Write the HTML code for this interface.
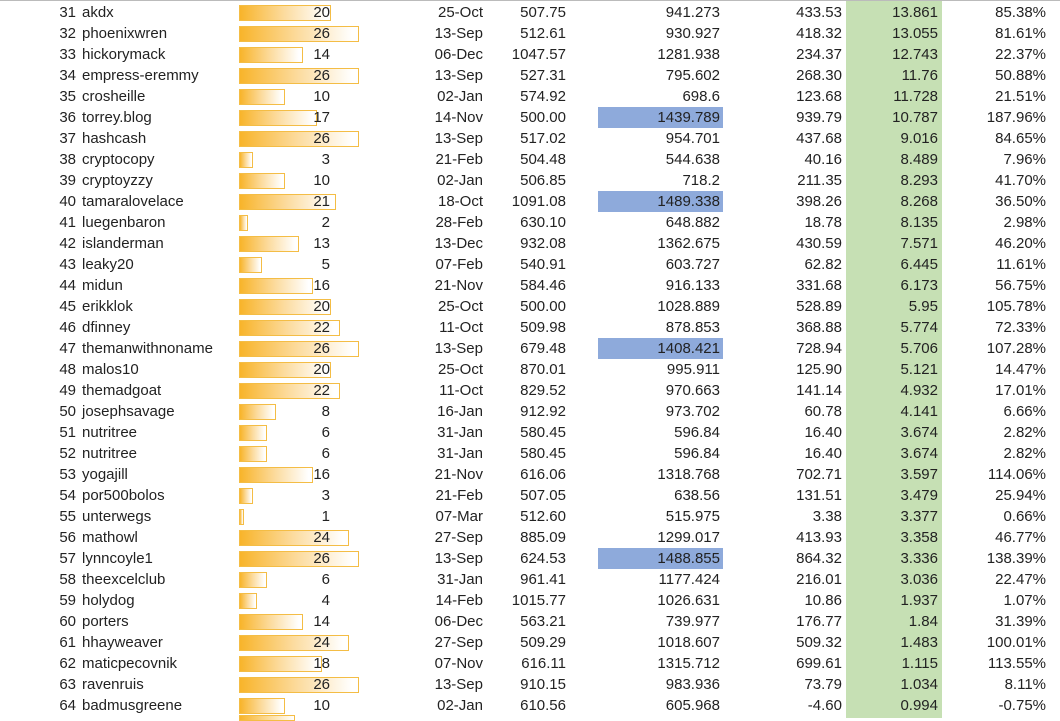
<!DOCTYPE html>
<html><head><meta charset="utf-8"><style>
body{margin:0;width:1060px;height:718px;overflow:hidden;background:#fff;font-family:"Liberation Sans",sans-serif;font-size:15px;color:#222;position:relative}
.g{position:absolute;left:846px;top:0;width:96px;height:718px;background:#c6e0b4}
.top{position:absolute;left:0;top:0;width:1060px;height:1px;background:#bbb}
.r{position:relative;height:21.03px;line-height:21px}
.r span{position:absolute;top:0;white-space:nowrap}
.n{right:984px}
.m{left:82px}
.b{left:239px;top:3px!important;height:16px;border:1px solid #f4bd45;box-sizing:border-box;background:linear-gradient(to right,#f8b42a,#fcdca0 50%,#fff 95%)}
.v{right:730px}
.d{right:577px}
.c4{right:494px}
.c5{right:340px}
.c6{right:218px}
.c7{right:122px}
.c8{right:14px}
.bl{position:absolute;left:598px;width:125px;top:0;height:21px;background:#8eaadb}
</style></head><body>
<div class="g"></div><div class="top"></div>
<div style="position:absolute;top:1.5px;left:0;width:1060px">
<div class="r"><span class="n">31</span><span class="m">akdx</span><span class="b" style="width:92px"></span><span class="v">20</span><span class="d">25-Oct</span><span class="c4">507.75</span><span class="c5">941.273</span><span class="c6">433.53</span><span class="c7">13.861</span><span class="c8">85.38%</span></div>
<div class="r"><span class="n">32</span><span class="m">phoenixwren</span><span class="b" style="width:120px"></span><span class="v">26</span><span class="d">13-Sep</span><span class="c4">512.61</span><span class="c5">930.927</span><span class="c6">418.32</span><span class="c7">13.055</span><span class="c8">81.61%</span></div>
<div class="r"><span class="n">33</span><span class="m">hickorymack</span><span class="b" style="width:64px"></span><span class="v">14</span><span class="d">06-Dec</span><span class="c4">1047.57</span><span class="c5">1281.938</span><span class="c6">234.37</span><span class="c7">12.743</span><span class="c8">22.37%</span></div>
<div class="r"><span class="n">34</span><span class="m">empress-eremmy</span><span class="b" style="width:120px"></span><span class="v">26</span><span class="d">13-Sep</span><span class="c4">527.31</span><span class="c5">795.602</span><span class="c6">268.30</span><span class="c7">11.76</span><span class="c8">50.88%</span></div>
<div class="r"><span class="n">35</span><span class="m">crosheille</span><span class="b" style="width:46px"></span><span class="v">10</span><span class="d">02-Jan</span><span class="c4">574.92</span><span class="c5">698.6</span><span class="c6">123.68</span><span class="c7">11.728</span><span class="c8">21.51%</span></div>
<div class="r"><span class="bl"></span><span class="n">36</span><span class="m">torrey.blog</span><span class="b" style="width:78px"></span><span class="v">17</span><span class="d">14-Nov</span><span class="c4">500.00</span><span class="c5">1439.789</span><span class="c6">939.79</span><span class="c7">10.787</span><span class="c8">187.96%</span></div>
<div class="r"><span class="n">37</span><span class="m">hashcash</span><span class="b" style="width:120px"></span><span class="v">26</span><span class="d">13-Sep</span><span class="c4">517.02</span><span class="c5">954.701</span><span class="c6">437.68</span><span class="c7">9.016</span><span class="c8">84.65%</span></div>
<div class="r"><span class="n">38</span><span class="m">cryptocopy</span><span class="b" style="width:14px"></span><span class="v">3</span><span class="d">21-Feb</span><span class="c4">504.48</span><span class="c5">544.638</span><span class="c6">40.16</span><span class="c7">8.489</span><span class="c8">7.96%</span></div>
<div class="r"><span class="n">39</span><span class="m">cryptoyzzy</span><span class="b" style="width:46px"></span><span class="v">10</span><span class="d">02-Jan</span><span class="c4">506.85</span><span class="c5">718.2</span><span class="c6">211.35</span><span class="c7">8.293</span><span class="c8">41.70%</span></div>
<div class="r"><span class="bl"></span><span class="n">40</span><span class="m">tamaralovelace</span><span class="b" style="width:97px"></span><span class="v">21</span><span class="d">18-Oct</span><span class="c4">1091.08</span><span class="c5">1489.338</span><span class="c6">398.26</span><span class="c7">8.268</span><span class="c8">36.50%</span></div>
<div class="r"><span class="n">41</span><span class="m">luegenbaron</span><span class="b" style="width:9px"></span><span class="v">2</span><span class="d">28-Feb</span><span class="c4">630.10</span><span class="c5">648.882</span><span class="c6">18.78</span><span class="c7">8.135</span><span class="c8">2.98%</span></div>
<div class="r"><span class="n">42</span><span class="m">islanderman</span><span class="b" style="width:60px"></span><span class="v">13</span><span class="d">13-Dec</span><span class="c4">932.08</span><span class="c5">1362.675</span><span class="c6">430.59</span><span class="c7">7.571</span><span class="c8">46.20%</span></div>
<div class="r"><span class="n">43</span><span class="m">leaky20</span><span class="b" style="width:23px"></span><span class="v">5</span><span class="d">07-Feb</span><span class="c4">540.91</span><span class="c5">603.727</span><span class="c6">62.82</span><span class="c7">6.445</span><span class="c8">11.61%</span></div>
<div class="r"><span class="n">44</span><span class="m">midun</span><span class="b" style="width:74px"></span><span class="v">16</span><span class="d">21-Nov</span><span class="c4">584.46</span><span class="c5">916.133</span><span class="c6">331.68</span><span class="c7">6.173</span><span class="c8">56.75%</span></div>
<div class="r"><span class="n">45</span><span class="m">erikklok</span><span class="b" style="width:92px"></span><span class="v">20</span><span class="d">25-Oct</span><span class="c4">500.00</span><span class="c5">1028.889</span><span class="c6">528.89</span><span class="c7">5.95</span><span class="c8">105.78%</span></div>
<div class="r"><span class="n">46</span><span class="m">dfinney</span><span class="b" style="width:101px"></span><span class="v">22</span><span class="d">11-Oct</span><span class="c4">509.98</span><span class="c5">878.853</span><span class="c6">368.88</span><span class="c7">5.774</span><span class="c8">72.33%</span></div>
<div class="r"><span class="bl"></span><span class="n">47</span><span class="m">themanwithnoname</span><span class="b" style="width:120px"></span><span class="v">26</span><span class="d">13-Sep</span><span class="c4">679.48</span><span class="c5">1408.421</span><span class="c6">728.94</span><span class="c7">5.706</span><span class="c8">107.28%</span></div>
<div class="r"><span class="n">48</span><span class="m">malos10</span><span class="b" style="width:92px"></span><span class="v">20</span><span class="d">25-Oct</span><span class="c4">870.01</span><span class="c5">995.911</span><span class="c6">125.90</span><span class="c7">5.121</span><span class="c8">14.47%</span></div>
<div class="r"><span class="n">49</span><span class="m">themadgoat</span><span class="b" style="width:101px"></span><span class="v">22</span><span class="d">11-Oct</span><span class="c4">829.52</span><span class="c5">970.663</span><span class="c6">141.14</span><span class="c7">4.932</span><span class="c8">17.01%</span></div>
<div class="r"><span class="n">50</span><span class="m">josephsavage</span><span class="b" style="width:37px"></span><span class="v">8</span><span class="d">16-Jan</span><span class="c4">912.92</span><span class="c5">973.702</span><span class="c6">60.78</span><span class="c7">4.141</span><span class="c8">6.66%</span></div>
<div class="r"><span class="n">51</span><span class="m">nutritree</span><span class="b" style="width:28px"></span><span class="v">6</span><span class="d">31-Jan</span><span class="c4">580.45</span><span class="c5">596.84</span><span class="c6">16.40</span><span class="c7">3.674</span><span class="c8">2.82%</span></div>
<div class="r"><span class="n">52</span><span class="m">nutritree</span><span class="b" style="width:28px"></span><span class="v">6</span><span class="d">31-Jan</span><span class="c4">580.45</span><span class="c5">596.84</span><span class="c6">16.40</span><span class="c7">3.674</span><span class="c8">2.82%</span></div>
<div class="r"><span class="n">53</span><span class="m">yogajill</span><span class="b" style="width:74px"></span><span class="v">16</span><span class="d">21-Nov</span><span class="c4">616.06</span><span class="c5">1318.768</span><span class="c6">702.71</span><span class="c7">3.597</span><span class="c8">114.06%</span></div>
<div class="r"><span class="n">54</span><span class="m">por500bolos</span><span class="b" style="width:14px"></span><span class="v">3</span><span class="d">21-Feb</span><span class="c4">507.05</span><span class="c5">638.56</span><span class="c6">131.51</span><span class="c7">3.479</span><span class="c8">25.94%</span></div>
<div class="r"><span class="n">55</span><span class="m">unterwegs</span><span class="b" style="width:5px"></span><span class="v">1</span><span class="d">07-Mar</span><span class="c4">512.60</span><span class="c5">515.975</span><span class="c6">3.38</span><span class="c7">3.377</span><span class="c8">0.66%</span></div>
<div class="r"><span class="n">56</span><span class="m">mathowl</span><span class="b" style="width:110px"></span><span class="v">24</span><span class="d">27-Sep</span><span class="c4">885.09</span><span class="c5">1299.017</span><span class="c6">413.93</span><span class="c7">3.358</span><span class="c8">46.77%</span></div>
<div class="r"><span class="bl"></span><span class="n">57</span><span class="m">lynncoyle1</span><span class="b" style="width:120px"></span><span class="v">26</span><span class="d">13-Sep</span><span class="c4">624.53</span><span class="c5">1488.855</span><span class="c6">864.32</span><span class="c7">3.336</span><span class="c8">138.39%</span></div>
<div class="r"><span class="n">58</span><span class="m">theexcelclub</span><span class="b" style="width:28px"></span><span class="v">6</span><span class="d">31-Jan</span><span class="c4">961.41</span><span class="c5">1177.424</span><span class="c6">216.01</span><span class="c7">3.036</span><span class="c8">22.47%</span></div>
<div class="r"><span class="n">59</span><span class="m">holydog</span><span class="b" style="width:18px"></span><span class="v">4</span><span class="d">14-Feb</span><span class="c4">1015.77</span><span class="c5">1026.631</span><span class="c6">10.86</span><span class="c7">1.937</span><span class="c8">1.07%</span></div>
<div class="r"><span class="n">60</span><span class="m">porters</span><span class="b" style="width:64px"></span><span class="v">14</span><span class="d">06-Dec</span><span class="c4">563.21</span><span class="c5">739.977</span><span class="c6">176.77</span><span class="c7">1.84</span><span class="c8">31.39%</span></div>
<div class="r"><span class="n">61</span><span class="m">hhayweaver</span><span class="b" style="width:110px"></span><span class="v">24</span><span class="d">27-Sep</span><span class="c4">509.29</span><span class="c5">1018.607</span><span class="c6">509.32</span><span class="c7">1.483</span><span class="c8">100.01%</span></div>
<div class="r"><span class="n">62</span><span class="m">maticpecovnik</span><span class="b" style="width:83px"></span><span class="v">18</span><span class="d">07-Nov</span><span class="c4">616.11</span><span class="c5">1315.712</span><span class="c6">699.61</span><span class="c7">1.115</span><span class="c8">113.55%</span></div>
<div class="r"><span class="n">63</span><span class="m">ravenruis</span><span class="b" style="width:120px"></span><span class="v">26</span><span class="d">13-Sep</span><span class="c4">910.15</span><span class="c5">983.936</span><span class="c6">73.79</span><span class="c7">1.034</span><span class="c8">8.11%</span></div>
<div class="r"><span class="n">64</span><span class="m">badmusgreene</span><span class="b" style="width:46px"></span><span class="v">10</span><span class="d">02-Jan</span><span class="c4">610.56</span><span class="c5">605.968</span><span class="c6">-4.60</span><span class="c7">0.994</span><span class="c8">-0.75%</span></div>
</div>
<div style="position:absolute;left:239px;top:715px;width:56px;height:6px;border:1px solid #f4bd45;box-sizing:border-box;background:linear-gradient(to right,#f8b42a,#fff)"></div>
</body></html>
